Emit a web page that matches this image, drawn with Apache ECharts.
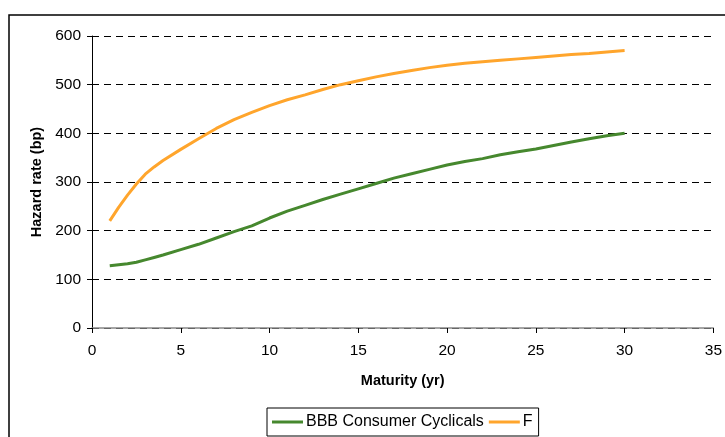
<!DOCTYPE html>
<html><head><meta charset="utf-8">
<script src="https://cdn.jsdelivr.net/npm/echarts@6/dist/echarts.min.js"></script>
<style>html,body{margin:0;padding:0;background:#fff}#c{width:725px;height:437px}</style>
</head><body><div id="c"></div>
<script>
var maturity = [1,1.5,2,2.5,3,3.5,4,5,6,7,8,9,10,11,12,13,14,15,16,17,18,19,20,21,22,23,24,25,26,27,28,29,30];
var bbbConsumerCyclicals = [128,130,132,135,140,145,150,161,172,185,198,210,226,240,252,264,275,286,297,308,317,326,335,342,348,356,362,368,375,382,389,395,400];
var fSeries = [220,248,273,296,316,331,344,367,389,410,428,443,457,469,479,490,500,508,516,523,529,535,540,544,547,550,553,556,559,562,564,567,570];
var xTicks = {min:0, max:35, interval:5};
var yTicks = {min:0, max:600, interval:100};

var chart = echarts.init(document.getElementById('c'));
function pairs(xs, ys){ return xs.map(function(x,i){ return [x, ys[i]]; }); }
var font = 'Liberation Sans, Arial, sans-serif';
chart.setOption({
  animation:false,
  backgroundColor:'#fff',
  graphic:[{type:'rect', shape:{x:9,y:15,width:730,height:440}, style:{fill:'none', stroke:'#000', lineWidth:1.5}, silent:true}],
  grid:{left:92, right:9, top:36, bottom:109},
  xAxis:{type:'value', min:xTicks.min, max:xTicks.max, interval:xTicks.interval,
    name:'Maturity (yr)', nameLocation:'middle', nameGap:45,
    nameTextStyle:{fontFamily:font, fontSize:14.5, fontWeight:'bold', color:'#000'},
    axisLine:{lineStyle:{color:'#888', width:1.5}},
    axisTick:{show:true, length:5, lineStyle:{color:'#000'}},
    axisLabel:{fontFamily:font, fontSize:15.5, color:'#000', margin:15},
    splitLine:{show:false}},
  yAxis:{type:'value', min:yTicks.min, max:yTicks.max, interval:yTicks.interval,
    name:'Hazard rate (bp)', nameLocation:'middle', nameGap:44, nameRotate:90,
    nameTextStyle:{fontFamily:font, fontSize:14.5, fontWeight:'bold', color:'#000'},
    axisLine:{show:true, lineStyle:{color:'#000', width:1}},
    axisTick:{show:true, length:5, lineStyle:{color:'#000'}},
    axisLabel:{fontFamily:font, fontSize:15.5, color:'#000', margin:11},
    splitLine:{show:true, lineStyle:{color:'#000', type:[7,5], width:1}}},
  legend:{left:267, top:408, orient:'horizontal', icon:'rect', itemWidth:31, itemHeight:3, itemGap:5,
    borderColor:'#000', borderWidth:1, padding:[6,6,6,5],
    textStyle:{fontFamily:font, fontSize:16, color:'#000', padding:[0,0,0,-2]},
    data:['BBB Consumer Cyclicals','F']},
  series:[
    {name:'BBB Consumer Cyclicals', type:'line', data:pairs(maturity,bbbConsumerCyclicals), showSymbol:false, symbol:'none',
      lineStyle:{color:'#46882e', width:3}, itemStyle:{color:'#46882e'}},
    {name:'F', type:'line', data:pairs(maturity,fSeries), showSymbol:false, symbol:'none',
      lineStyle:{color:'#ffa52c', width:3}, itemStyle:{color:'#ffa52c'}}
  ]
});
</script></body></html>
